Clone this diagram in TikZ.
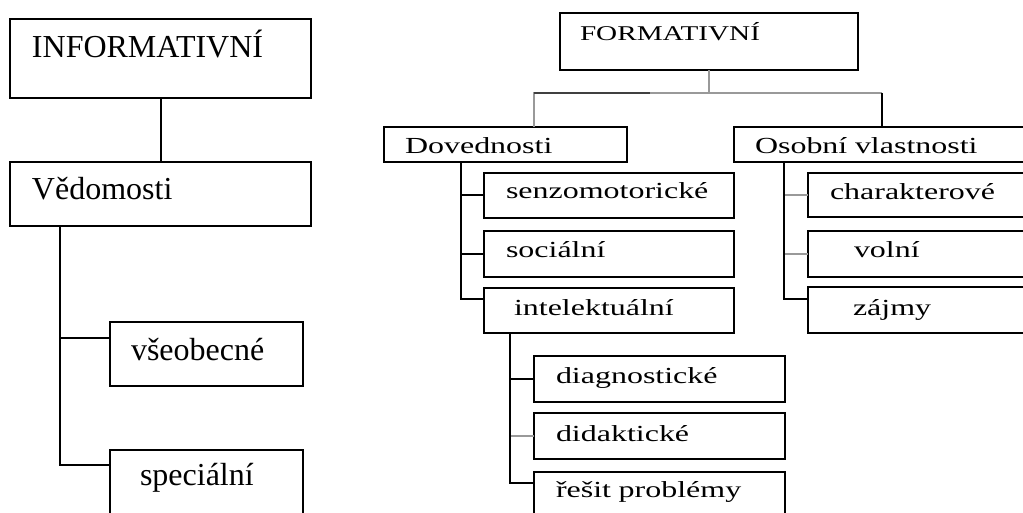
\documentclass[tikz,border=0pt]{standalone}
\usepackage{fontspec}
\setmainfont{Liberation Serif}
\newfontfamily\widefont{Liberation Serif}[FakeStretch=1.39]
\begin{document}
\begin{tikzpicture}[x=0.5pt, y=-0.5pt,
    box/.style={draw=black, line width=1.1pt, anchor=north west, outer sep=0pt, inner ysep=0pt, align=left, font=\fontsize{16pt}{19pt}\selectfont},
    widebox/.style={box, font=\widefont\fontsize{11.5pt}{13pt}\selectfont},
    link/.style={draw=black, line width=1pt},
    greylink/.style={draw=black!40, line width=1pt}]
    \useasboundingbox (0,0) rectangle (1023,513);
    \node[box, inner xsep=11pt, text width=128.5pt, text height=19.5pt, text depth=20pt] at (10,19) (info) {INFORMATIVNÍ};
    \node[box, inner xsep=11pt, text width=128.5pt, text height=19pt, text depth=13pt] at (10,162) (vedo) {Vědomosti};
    \node[box, inner xsep=10.5pt, text width=75.5pt, text height=19pt, text depth=13pt] at (110,322) (vseob) {všeobecné};
    \node[box, inner xsep=15pt, text width=66.5pt, text height=17.5pt, text depth=20pt] at (110,450) (spec) {speciální};
    \draw[link] (info.south) -- (vedo.north);
    \coordinate (vtrunk) at ([xshift=25pt]vedo.south west);
    \draw[link] (vtrunk) |- ([yshift=-8pt]vseob.north west);
    \draw[link] (vtrunk) |- ([yshift=-7.5pt]spec.north west);
    \node[widebox, font=\widefont\fontsize{10.5pt}{12pt}\selectfont, inner xsep=10pt, text width=129pt, text height=14pt, text depth=14.5pt] at (560,13) (form) {FORMATIVNÍ};
    \node[widebox, inner xsep=10.5pt, text width=100.5pt, text height=13.5pt, text depth=4pt] at (384,127) (dov) {Dovednosti};
    \node[widebox, inner xsep=10.5pt, text width=127pt, text height=13.5pt, text depth=4pt] at (734,127) (osob) {Osobní vlastnosti};
    \draw[greylink] (form.south) -- ([yshift=-11.5pt]form.south) coordinate (fjoin);
    \draw[greylink] (fjoin) -| ([xshift=75pt]dov.north west);
    \draw[link, draw=black!75] ([xshift=75pt]dov.north west |- fjoin) -- ++(116,0);
    \draw[greylink] (fjoin) -- (fjoin -| osob.north);
    \draw[link] (fjoin -| osob.north) -- (osob.north);
    \node[widebox, inner xsep=11pt, text width=103pt, text height=13pt, text depth=9.5pt] at (484,173) (senzo) {senzomotorické};
    \node[widebox, inner xsep=11pt, text width=103pt, text height=13.5pt, text depth=9.5pt] at (484,231) (soc) {sociální};
    \node[widebox, inner xsep=15pt, text width=95pt, text height=13.5pt, text depth=9pt] at (484,288) (intel) {intelektuální};
    \coordinate (dtrunk) at ([xshift=38.5pt]dov.south west);
    \draw[link] (dtrunk) |- (senzo.west);
    \draw[link] (dtrunk) |- (soc.west);
    \draw[link] (dtrunk) |- ([yshift=-5.5pt]intel.north west);
    \node[widebox, inner xsep=11pt, text width=93pt, text height=13.5pt, text depth=8.5pt] at (808,173) (char) {charakterové};
    \node[widebox, inner xsep=23pt, text width=69pt, text height=13.5pt, text depth=9.5pt] at (808,231) (voln) {volní};
    \node[widebox, inner xsep=22.5pt, text width=70pt, text height=14pt, text depth=9pt] at (808,287) (zajm) {zájmy};
    \coordinate (otrunk) at ([xshift=25pt]osob.south west);
    \draw[greylink] (char.west) -- (char.west -| otrunk);
    \draw[greylink] (voln.west) -- (voln.west -| otrunk);
    \draw[link] (otrunk) |- ([yshift=-6pt]zajm.north west);
    \node[widebox, inner xsep=11pt, text width=103.5pt, text height=14pt, text depth=9pt] at (534,356) (diag) {diagnostické};
    \node[widebox, inner xsep=11pt, text width=103.5pt, text height=14pt, text depth=9pt] at (534,413) (didak) {didaktické};
    \node[widebox, inner xsep=11pt, text width=103.5pt, text height=12.5pt, text depth=16pt] at (534,472) (resit) {řešit problémy};
    \coordinate (itrunk) at ([xshift=13pt]intel.south west);
    \draw[link] (itrunk) |- (diag.west);
    \draw[greylink] (didak.west) -- (didak.west -| itrunk);
    \draw[link] (itrunk) |- ([yshift=-5.5pt]resit.north west);
\end{tikzpicture}
\end{document}
